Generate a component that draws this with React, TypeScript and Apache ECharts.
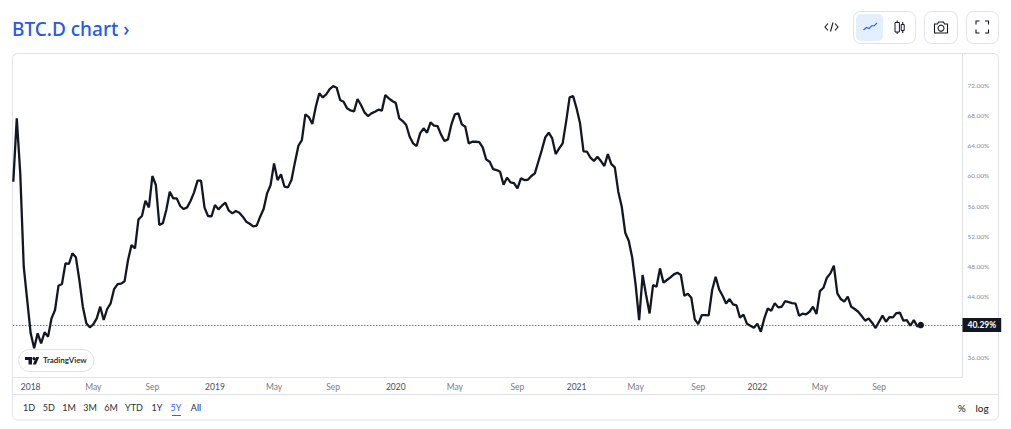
import React, { useEffect, useRef } from "react";
import * as echarts from "echarts";

const TITLE = "BTC.D chart ›";
const START_DATE = "2017-11-27";
const TOTAL_WEEK_SLOTS = 274;

const dominanceValues = [
  59.23, 67.6, 60.33, 48.0, 43.6, 39.2, 37.22, 39.2, 37.88, 39.33, 38.76, 41.18, 42.28, 45.49, 45.71, 48.44, 48.36, 49.77, 49.24,
  46.24, 42.72, 40.52, 40.0, 40.39, 41.18, 42.72, 40.96, 42.41, 43.16, 45.05, 45.71, 45.76, 46.07, 48.88, 50.87, 50.43, 54.26,
  54.7, 56.72, 55.84, 59.98, 58.79, 53.51, 53.73, 55.49, 57.91, 57.03, 57.03, 56.02, 55.62, 55.84, 56.72, 57.82, 59.37, 59.37,
  55.8, 54.7,
  54.65, 56.15, 55.57, 56.06, 56.46, 55.4, 55.05, 55.35, 55.13, 54.61, 53.95, 53.68, 53.33, 53.42, 54.61, 55.62, 57.69, 58.79,
  61.65, 59.45, 60.2, 58.57, 58.48, 59.45, 61.78, 63.98, 64.73, 68.12, 67.77, 66.85, 69.14, 70.9, 70.37, 70.77, 71.47, 71.87,
  71.65, 70.02, 69.8, 68.92, 68.65, 68.52, 70.15, 69.36, 68.39, 67.9, 68.26, 68.48, 68.74, 68.61, 70.68, 70.24, 69.89, 69.62, 67.6,
  67.24, 66.72, 65.17, 64.29, 63.94, 65.62, 66.28, 65.7, 67.07, 66.63, 66.58, 65.48, 64.6, 64.82, 66.8, 68.13, 68.26, 66.8, 66.5,
  64.29, 64.51, 64.51, 64.47, 63.77, 62.18, 61.87, 60.9, 60.77, 60.55, 58.83, 59.76, 59.14, 59.05, 58.35, 59.67, 59.45, 59.49,
  59.98, 60.33, 61.87, 63.41, 65.09, 65.7, 64.95, 62.88, 63.63, 64.29, 67.16, 70.37, 70.55, 68.92, 66.94, 63.24, 63.19, 62.4,
  61.96, 62.53, 61.96, 61.3, 62.88, 61.56, 61.12, 57.91, 55.92, 52.49, 51.43, 49.23, 45.58, 40.95, 46.9, 44.26, 41.83, 45.58,
  45.36, 47.78, 45.89, 46.24, 46.59, 46.99, 47.21, 46.9, 44.17, 44.43, 43.9, 41.04, 40.42, 41.61, 41.61, 41.57, 44.92, 46.68, 45.0,
  44.17, 43.15, 43.73, 43.02, 42.89, 41.26, 41.66, 40.47, 40.2, 39.94, 40.47, 39.41, 41.17, 42.49,
  42.19, 43.19, 42.63, 42.71, 43.46, 43.33, 43.2, 43.11, 41.53, 41.79, 41.7, 42.05, 42.71, 41.75, 44.78, 45.22, 46.55, 47.12, 48.13,
  44.48, 43.73, 43.38, 44.04, 42.71, 42.41, 42.05, 41.48, 40.87, 41.17, 40.6, 39.9, 40.73, 41.53, 40.73, 41.35, 41.31, 41.88, 41.92,
  40.87, 40.95, 40.2, 40.95, 40.12, 40.29,
];

const categories: string[] = [];
for (let i = 0; i < TOTAL_WEEK_SLOTS; i++) {
  const d = new Date(START_DATE + "T00:00:00Z");
  d.setUTCDate(d.getUTCDate() + i * 7);
  categories.push(d.toISOString().slice(0, 10));
}

const timeTickLabels: Record<string, string> = {
  "2018-01-01": "2018",
  "2018-05-07": "May",
  "2018-09-03": "Sep",
  "2019-01-07": "2019",
  "2019-05-06": "May",
  "2019-09-02": "Sep",
  "2020-01-06": "2020",
  "2020-05-04": "May",
  "2020-09-07": "Sep",
  "2021-01-04": "2021",
  "2021-05-03": "May",
  "2021-09-06": "Sep",
  "2022-01-03": "2022",
  "2022-05-09": "May",
  "2022-09-05": "Sep",
};

const priceTicks = [36, 44, 48, 52, 56, 60, 64, 68, 72];
const rangeButtons: [string, number][] = [
  ["1D", 29], ["5D", 48.7], ["1M", 69], ["3M", 90], ["6M", 111], ["YTD", 134], ["1Y", 157], ["5Y", 176], ["All", 196],
];
const ACTIVE_RANGE = "5Y";

const INK = "#131722";
const BORDER = "#e0e3eb";
const BLUE = "#2962ff";
const UI_FONT = "Lato";

function App() {
  const ref = useRef<HTMLDivElement>(null);
  useEffect(() => {
    if (!ref.current) return;
    const chart = echarts.init(ref.current, undefined, { renderer: "svg" });
    const last = dominanceValues[dominanceValues.length - 1];
    const lastCategory = categories[dominanceValues.length - 1];
    const iconStroke = { stroke: INK, fill: "none", lineWidth: 1.1 };
    const graphic: any[] = [
      { type: "text", x: 12, y: 19, style: { text: TITLE, fill: "#2559ea", font: '500 19px "Noto Sans"' } },
      // frame
      { type: "rect", z: -1, shape: { x: 12.5, y: 53.5, width: 986, height: 366.5, r: 5 }, style: { fill: "none", stroke: BORDER, lineWidth: 1 } },
      { type: "line", z: -1, shape: { x1: 962.5, y1: 54, x2: 962.5, y2: 377.5 }, style: { stroke: BORDER, lineWidth: 1 } },
      { type: "line", z: -1, shape: { x1: 13, y1: 377.5, x2: 962.5, y2: 377.5 }, style: { stroke: BORDER, lineWidth: 1 } },
      { type: "line", z: -1, shape: { x1: 13, y1: 394.5, x2: 998, y2: 394.5 }, style: { stroke: BORDER, lineWidth: 1 } },
      // TradingView badge
      { type: "rect", z: 5, shape: { x: 18.5, y: 349.5, width: 75.5, height: 22, r: 11 }, style: { fill: "#fff", stroke: BORDER, lineWidth: 1 } },
      { type: "polygon", z: 6, shape: { points: [[25, 357], [32, 357], [32, 364.5], [28.5, 364.5], [28.5, 360], [25, 360]] }, style: { fill: INK } },
      { type: "circle", z: 6, shape: { cx: 34, cy: 358.6, r: 1.7 }, style: { fill: INK } },
      { type: "polygon", z: 6, shape: { points: [[36.2, 357], [39.2, 357], [36, 364.5], [32.8, 364.5]] }, style: { fill: INK } },
      { type: "text", z: 6, x: 43, y: 355.5, style: { text: "TradingView", fill: INK, font: `600 8px "${UI_FONT}"` } },
      // bottom controls
      { type: "text", x: 961.7, y: 407.7, style: { text: "%", fill: INK, font: `10px "${UI_FONT}"`, align: "center", verticalAlign: "middle" } },
      { type: "text", x: 982, y: 407.7, style: { text: "log", fill: INK, font: `10px "${UI_FONT}"`, align: "center", verticalAlign: "middle" } },
      { type: "line", shape: { x1: 172, y1: 415.5, x2: 181, y2: 415.5 }, style: { stroke: BLUE, lineWidth: 1 } },
      // toolbar
      { type: "polyline", shape: { points: [[828, 23.5], [825, 27], [828, 30.5]] }, style: iconStroke },
      { type: "polyline", shape: { points: [[835, 23.5], [838, 27], [835, 30.5]] }, style: iconStroke },
      { type: "line", shape: { x1: 833, y1: 22.5, x2: 830.5, y2: 31.5 }, style: iconStroke },
      { type: "rect", shape: { x: 853.5, y: 11.5, width: 62, height: 32, r: 7 }, style: { fill: "#fff", stroke: BORDER, lineWidth: 1 } },
      { type: "rect", shape: { x: 856, y: 14, width: 27, height: 27, r: 5 }, style: { fill: "#e3effd" } },
      { type: "polyline", shape: { points: [[863.5, 30], [866.5, 27.5], [869, 28.5], [872, 25.5], [874, 26], [877, 23]] }, style: { stroke: BLUE, fill: "none", lineWidth: 1.1 } },
      { type: "line", shape: { x1: 897.2, y1: 20.5, x2: 897.2, y2: 34 }, style: iconStroke },
      { type: "rect", shape: { x: 895, y: 22.5, width: 4.4, height: 9.5 }, style: { fill: "#fff", stroke: INK, lineWidth: 1 } },
      { type: "line", shape: { x1: 902.7, y1: 22, x2: 902.7, y2: 33 }, style: iconStroke },
      { type: "rect", shape: { x: 901.2, y: 24.5, width: 3, height: 6 }, style: { fill: "#fff", stroke: INK, lineWidth: 1 } },
      { type: "rect", shape: { x: 924.5, y: 11.5, width: 33, height: 32, r: 7 }, style: { fill: "#fff", stroke: BORDER, lineWidth: 1 } },
      { type: "polygon", shape: { points: [[934.5, 24], [937.5, 24], [938.5, 22], [943.5, 22], [944.5, 24], [947.5, 24], [947.5, 33], [934.5, 33]] }, style: iconStroke },
      { type: "circle", shape: { cx: 941, cy: 28.2, r: 3 }, style: iconStroke },
      { type: "rect", shape: { x: 966.5, y: 11.5, width: 32, height: 32, r: 7 }, style: { fill: "#fff", stroke: BORDER, lineWidth: 1 } },
      { type: "polyline", shape: { points: [[976, 24.5], [976, 21], [979.5, 21]] }, style: iconStroke },
      { type: "polyline", shape: { points: [[985, 21], [988.5, 21], [988.5, 24.5]] }, style: iconStroke },
      { type: "polyline", shape: { points: [[976, 29.5], [976, 33], [979.5, 33]] }, style: iconStroke },
      { type: "polyline", shape: { points: [[985, 33], [988.5, 33], [988.5, 29.5]] }, style: iconStroke },
    ];
    rangeButtons.forEach(([label, x]) => {
      graphic.push({
        type: "text",
        x,
        y: 407.7,
        style: {
          text: label,
          fill: label === ACTIVE_RANGE ? BLUE : "#2a2e39",
          font: `9px "${UI_FONT}"`,
          align: "center",
          verticalAlign: "middle",
        },
      });
    });

    chart.setOption({
      animation: false,
      backgroundColor: "#fff",
      graphic,
      grid: { left: 13.3, right: 48.5, top: 54, bottom: 52, containLabel: false },
      xAxis: {
        type: "category",
        data: categories,
        boundaryGap: false,
        axisLine: { show: false },
        axisTick: { show: false },
        splitLine: { show: false },
        axisLabel: {
          margin: 5,
          fontFamily: UI_FONT,
          fontSize: 8.5,
          color: "#787b86",
          hideOverlap: false,
          interval: (_i: number, value: string) => value in timeTickLabels,
          formatter: (value: string) => {
            const t = timeTickLabels[value] ?? "";
            return /^\d/.test(t) ? `{y|${t}}` : t;
          },
          rich: { y: { color: "#4a4e5a", fontFamily: UI_FONT, fontSize: 8.5 } },
        },
      },
      yAxis: {
        type: "value",
        position: "right",
        min: 33.43,
        max: 76.1,
        axisLine: { show: false },
        axisTick: { show: false },
        splitLine: { show: false },
        axisLabel: {
          customValues: priceTicks,
          margin: 5,
          fontFamily: UI_FONT,
          fontSize: 6.5,
          color: "#8a8d98",
          formatter: (v: number) => `${v.toFixed(2)}%`,
        },
      },
      series: [
        {
          type: "line",
          data: dominanceValues,
          showSymbol: false,
          smooth: false,
          lineStyle: { color: INK, width: 2.3 },
          itemStyle: { color: INK },
          markLine: {
            silent: true,
            symbol: "none",
            animation: false,
            lineStyle: { color: "#2a2e39", type: [1, 2], width: 1 },
            label: {
              position: "end",
              distance: 0,
              formatter: () => `${last.toFixed(2)}%`,
              backgroundColor: INK,
              color: "#fff",
              fontFamily: UI_FONT,
              fontWeight: "bold",
              fontSize: 8.5,
              padding: [2.5, 5],
            },
            data: [{ yAxis: last }],
          },
          markPoint: {
            silent: true,
            animation: false,
            symbol: "circle",
            symbolSize: 6.5,
            itemStyle: { color: INK },
            label: { show: false },
            data: [{ coord: [lastCategory, last] }],
          },
        },
      ],
    });
    return () => chart.dispose();
  }, []);
  return (
    <div
      ref={ref}
      style={{ position: "absolute", left: 0, top: 0, width: 1011, height: 429, background: "#fff" }}
    />
  );
}

export default App;
